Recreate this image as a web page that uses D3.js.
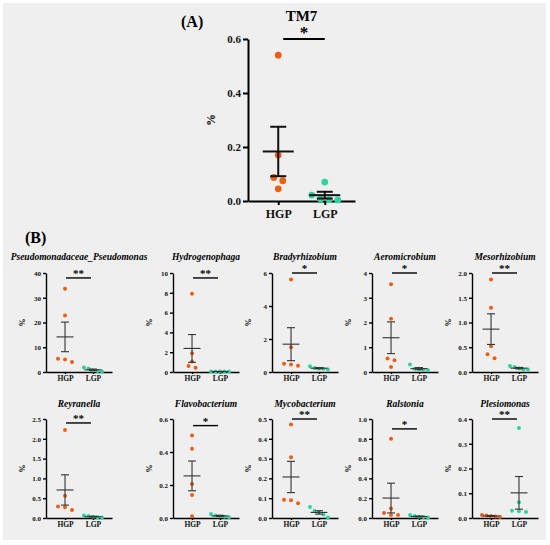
<!DOCTYPE html>
<html>
<head>
<meta charset="utf-8">
<script src="https://cdn.jsdelivr.net/npm/d3@7"></script>
<style>
  body { margin: 0; background: #fff; }
  text { font-family: "Liberation Serif", "Times New Roman", serif; }
</style>
</head>
<body>
<div id="chart"></div>
<script>
// ---- data ----
const groups = ["HGP", "LGP"];

const tm7HGP = [0.54, 0.17, 0.087, 0.075, 0.045];
const tm7LGP = [0.07, 0.022, 0.007, 0.005, 0.004];
const tm7Ticks = [0, 0.2, 0.4, 0.6];

const genera = ["Pseudomonadaceae_Pseudomonas", "Hydrogenophaga", "Bradyrhizobium", "Aeromicrobium", "Mesorhizobium",
                "Reyranella", "Flavobacterium", "Mycobacterium", "Ralstonia", "Plesiomonas"];
const hgpValues = [
  [33.6, 22.8, 5.4, 5.1, 4.0],
  [7.9, 1.9, 1.07, 0.6, 0.43],
  [5.6, 1.5, 0.5, 0.45, 0.38],
  [3.55, 2.15, 0.55, 0.47, 0.2],
  [1.87, 1.3, 0.52, 0.36, 0.28],
  [2.22, 0.56, 0.29, 0.27, 0.2],
  [0.5, 0.42, 0.206, 0.14, 0.01],
  [0.472, 0.307, 0.092, 0.09, 0.075],
  [0.8, 0.097, 0.05, 0.03, 0.03],
  [0.012, 0.01, 0.008, 0.006, 0.004]
];
const lgpValues = [
  [1.8, 1.4, 0.6, 0.4, 0.2],
  [0.05, 0.05, 0.05, 0.05, 0.05],
  [0.35, 0.25, 0.2, 0.2, 0.15],
  [0.3, 0.13, 0.1, 0.08, 0.07],
  [0.12, 0.1, 0.07, 0.05, 0.05],
  [0.06, 0.05, 0.03, 0.02, 0.01],
  [0.025, 0.015, 0.01, 0.008, 0.005],
  [0.055, 0.035, 0.03, 0.018, 0.003],
  [0.03, 0.02, 0.012, 0.01, 0.005],
  [0.364, 0.064, 0.029, 0.027, 0.024]
];
const yMaxes = [40, 10, 6, 4, 2, 2.5, 0.6, 0.5, 1.0, 0.4];
const tickSteps = [10, 2, 2, 1, 0.5, 0.5, 0.2, 0.1, 0.2, 0.1];
const sigLabels = ["**", "**", "*", "*", "**", "**", "*", "**", "*", "**"];
const sigLevels = [38, 9.5, 6, 4, 2, 2.4, 0.56, 0.5, 0.9, 0.4];

const colors = { HGP: "#ec5f13", LGP: "#2fd3a2" };

// ---- page ----
const width = 550, height = 545;
const svg = d3.select("#chart").append("svg")
  .attr("width", width)
  .attr("height", height);

svg.append("rect")
  .attr("x", 3).attr("y", 3)
  .attr("width", 543).attr("height", 537)
  .attr("fill", "#efefef");

// prism-style scatter: points close in y go into one row, spread evenly
function swarm(vals, y, near, step, maxSpan) {
  const pts = vals.map(v => ({ v: v, y: y(v), dx: 0 })).sort((a, b) => a.y - b.y);
  const rows = [];
  pts.forEach(p => {
    const last = rows[rows.length - 1];
    if (last && p.y - last[last.length - 1].y < near) last.push(p);
    else rows.push([p]);
  });
  rows.forEach(row => {
    const k = row.length;
    if (k < 2) return;
    const s = Math.min(step, maxSpan / (k - 1));
    row.forEach((p, j) => { p.dx = (j - (k - 1) / 2) * s; });
  });
  return pts;
}

function drawPanel(o) {
  const g = svg.append("g");
  const x = d3.scalePoint().domain(groups).range([o.ax, o.ax + o.w]).padding(o.pad);
  const y = d3.scaleLinear().domain([0, o.yMax]).range([o.y0, o.yTop]);

  // y axis
  g.append("g")
    .attr("transform", `translate(${o.ax},0)`)
    .call(d3.axisLeft(y).tickValues(o.ticks).tickFormat(d3.format(o.fmt)).tickSize(o.tick).tickSizeOuter(0).tickPadding(2))
    .call(a => a.attr("font-family", null))
    .call(a => a.selectAll("path,line").attr("stroke", "#000").attr("stroke-width", o.axW))
    .call(a => a.selectAll("text").attr("font-size", o.tickFs).attr("font-weight", "bold").attr("fill", "#111"));

  // x axis
  g.append("g")
    .attr("transform", `translate(0,${o.y0})`)
    .call(d3.axisBottom(x).tickSize(o.tick - 1).tickSizeOuter(0).tickPadding(o.xPad))
    .call(a => a.attr("font-family", null))
    .call(a => a.selectAll("path,line").attr("stroke", "#000").attr("stroke-width", o.axW))
    .call(a => a.selectAll("text").attr("font-size", o.xFs).attr("font-weight", "bold").attr("fill", "#111"));

  // y label
  g.append("text")
    .attr("transform", `translate(${o.labX},${(o.y0 + o.yTop) / 2}) rotate(-90)`)
    .attr("text-anchor", "middle")
    .attr("dominant-baseline", "middle")
    .attr("font-size", o.labFs)
    .attr("font-weight", "bold")
    .text("%");

  // title
  g.append("text")
    .attr("x", o.ax + o.w / 2).attr("y", o.titleY)
    .attr("text-anchor", "middle")
    .attr("font-size", o.titleFs)
    .attr("font-weight", "bold")
    .attr("font-style", o.italic ? "italic" : "normal")
    .text(o.title);

  // significance
  const sy = y(o.sigLevel);
  g.append("line")
    .attr("x1", x("HGP") + o.sigIn[0]).attr("x2", x("LGP") + o.sigIn[1])
    .attr("y1", sy).attr("y2", sy)
    .attr("stroke", "#000").attr("stroke-width", o.axW);
  g.append("text")
    .attr("x", (x("HGP") + o.sigIn[0] + x("LGP") + o.sigIn[1]) / 2)
    .attr("y", sy + o.starDy)
    .attr("text-anchor", "middle")
    .attr("font-size", o.starFs)
    .attr("font-weight", "bold")
    .text(o.sig);

  // points, then mean +/- SEM
  [["HGP", o.hgp], ["LGP", o.lgp]].forEach(([grp, vals]) => {
    const cx = x(grp);
    g.append("g").selectAll("circle")
      .data(swarm(vals, y, o.near, o.step, o.maxSpan))
      .join("circle")
      .attr("cx", d => cx + d.dx)
      .attr("cy", d => d.y)
      .attr("r", o.r)
      .attr("fill", colors[grp]);

    const m = d3.mean(vals);
    const sem = d3.deviation(vals) / Math.sqrt(vals.length);
    const eb = g.append("g").attr("stroke", o.ebColor).attr("stroke-width", o.ebW);
    eb.append("line").attr("x1", cx).attr("x2", cx).attr("y1", y(m - sem)).attr("y2", y(m + sem));
    eb.append("line").attr("x1", cx - o.meanHalf).attr("x2", cx + o.meanHalf).attr("y1", y(m)).attr("y2", y(m));
    [m - sem, m + sem].forEach(v => {
      eb.append("line").attr("x1", cx - o.capHalf).attr("x2", cx + o.capHalf).attr("y1", y(v)).attr("y2", y(v));
    });
  });
}

// ---- panel A ----
svg.append("text").attr("x", 181).attr("y", 27)
  .attr("font-size", 16).attr("font-weight", "bold").text("(A)");

drawPanel({
  ax: 248, w: 107, pad: 0.65, y0: 201, yTop: 39,
  yMax: 0.6, ticks: tm7Ticks, fmt: ".1f",
  hgp: tm7HGP, lgp: tm7LGP,
  title: "TM7", italic: false, titleY: 21, titleFs: 15,
  sig: "*", sigLevel: 0.6, sigIn: [5, 0], starDy: -1, starFs: 17,
  tick: 5, axW: 2, tickFs: 11, xFs: 12, xPad: 4, labX: 212, labFs: 12,
  r: 3.4, near: 7, step: 9, maxSpan: 26, ebColor: "#111", ebW: 2, meanHalf: 15.5, capHalf: 8
});

// ---- panel B ----
svg.append("text").attr("x", 25).attr("y", 243)
  .attr("font-size", 16).attr("font-weight", "bold").text("(B)");

const colX = [46, 173, 272, 372, 472];
const rows = [{ yTop: 273, y0: 372, titleY: 260 }, { yTop: 419, y0: 518, titleY: 407 }];

genera.forEach((name, i) => {
  const row = rows[Math.floor(i / 5)];
  const ax = colX[i % 5];
  const step = tickSteps[i];
  drawPanel({
    ax: ax, w: 66, pad: 0.68, y0: row.y0, yTop: row.yTop,
    yMax: yMaxes[i], ticks: d3.range(0, yMaxes[i] + step / 2, step), fmt: step < 1 ? ".1f" : "d",
    hgp: hgpValues[i], lgp: lgpValues[i],
    title: name, italic: true, titleY: row.titleY, titleFs: 9.5,
    sig: sigLabels[i], sigLevel: sigLevels[i], sigIn: [1, -2], starDy: -1, starFs: 11,
    tick: 3, axW: 1.4, tickFs: 7, xFs: 7.5, xPad: 2, labX: ax - 23, labFs: 8,
    r: 2, near: 4.5, step: 7, maxSpan: 18, ebColor: "#333", ebW: 1.1, meanHalf: 8.5, capHalf: 4
  });
});
</script>
</body>
</html>
